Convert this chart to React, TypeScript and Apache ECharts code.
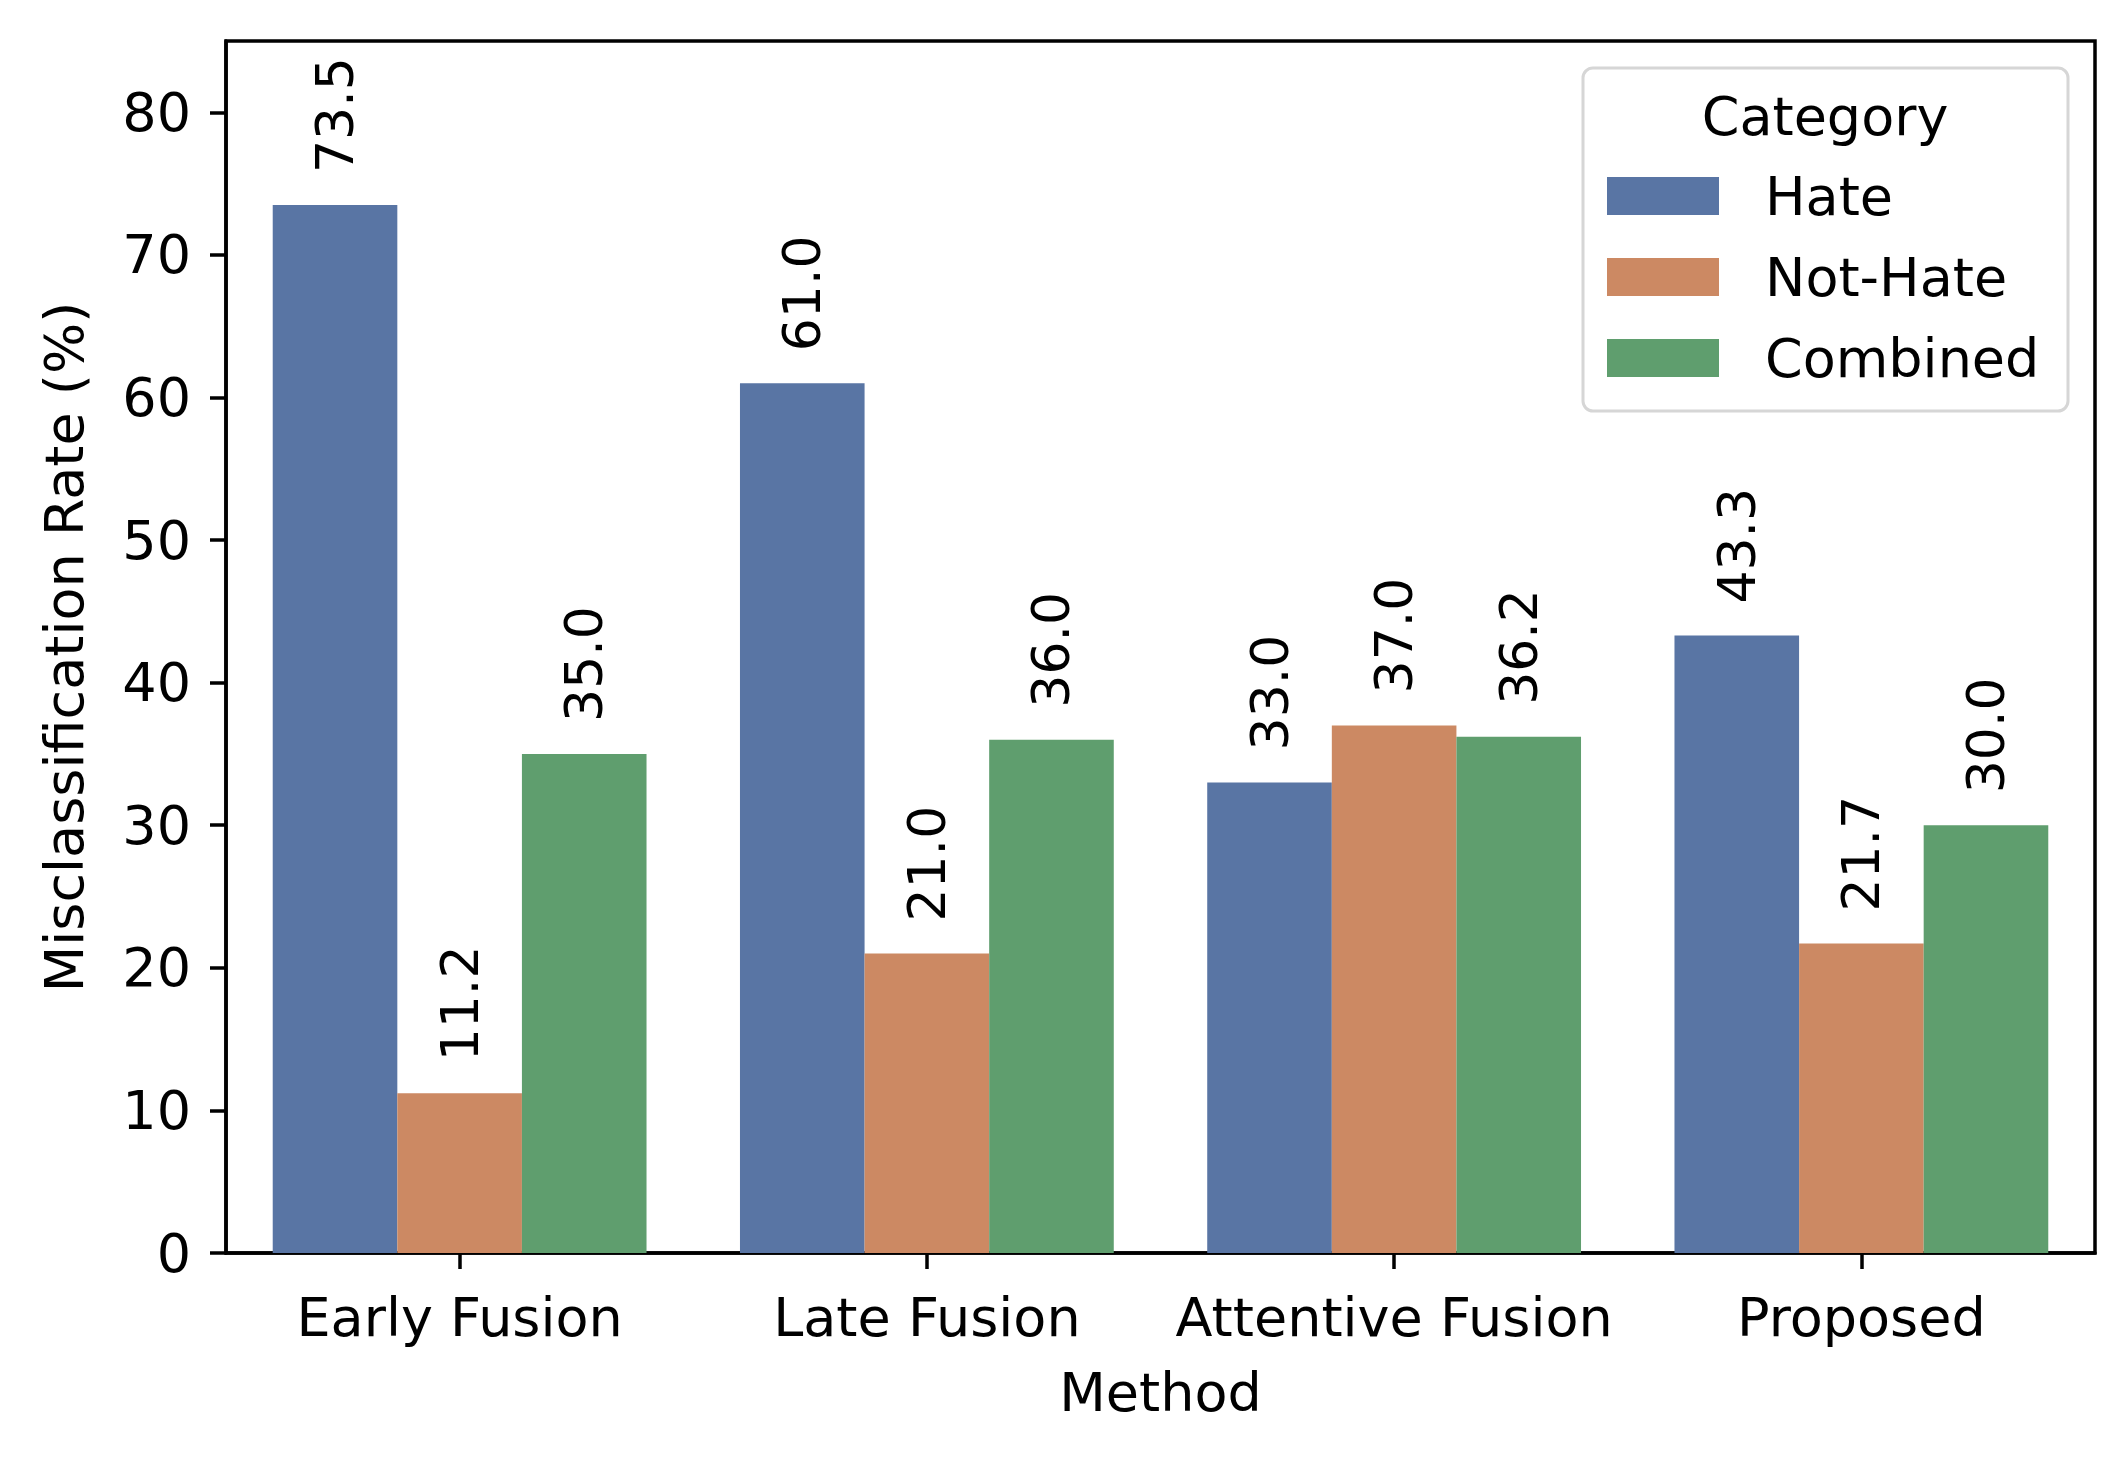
import React, { useEffect, useRef } from "react";
import * as echarts from "echarts";

const categories = ["Early Fusion", "Late Fusion", "Attentive Fusion", "Proposed"];
const seriesNames = ["Hate", "Not-Hate", "Combined"];
const hate = [73.5, 61.0, 33.0, 43.3];
const notHate = [11.2, 21.0, 37.0, 21.7];
const combined = [35.0, 36.0, 36.2, 30.0];
const yTicks = [0, 10, 20, 30, 40, 50, 60, 70, 80];
const colors = ["#5975a4", "#cc8963", "#5f9e6e"];

const FONT = "DejaVu Sans";

export default function App() {
  const ref = useRef<HTMLDivElement>(null);
  useEffect(() => {
    document.body.style.margin = "0";
    const chart = echarts.init(ref.current!, null, { renderer: "svg" });
    const values = [hate, notHate, combined];
    chart.setOption({
      animation: false,
      backgroundColor: "#fff",
      textStyle: { fontFamily: FONT, color: "#000" },
      grid: {
        left: 226,
        right: 30,
        top: 41,
        bottom: 204,
        show: true,
        borderColor: "#000",
        borderWidth: 3.5,
        backgroundColor: "transparent",
      },
      xAxis: {
        type: "category",
        data: categories,
        name: "Method",
        nameLocation: "middle",
        nameGap: 112,
        nameTextStyle: { fontSize: 54, color: "#000", fontFamily: FONT },
        axisLine: { show: true, lineStyle: { color: "#000", width: 3.5 } },
        axisTick: { show: true, alignWithLabel: true, length: 16, lineStyle: { color: "#000", width: 3.5 } },
        axisLabel: { fontSize: 54, color: "#000", fontFamily: FONT, margin: 37, interval: 0 },
        splitLine: { show: false },
      },
      yAxis: {
        type: "value",
        min: 0,
        max: 85,
        interval: 10,
        name: "Misclassification Rate (%)",
        nameLocation: "middle",
        nameGap: 135,
        nameTextStyle: { fontSize: 54, color: "#000", fontFamily: FONT },
        axisLine: { show: true, lineStyle: { color: "#000", width: 3.5 } },
        axisTick: { show: true, length: 16, customValues: yTicks, lineStyle: { color: "#000", width: 3.5 } },
        axisLabel: { fontSize: 54, color: "#000", fontFamily: FONT, margin: 35, customValues: yTicks },
        splitLine: { show: false },
      },
      legend: {
        orient: "vertical",
        left: 1607,
        top: 169,
        itemWidth: 112,
        itemHeight: 38,
        itemGap: 27,
        icon: "rect",
        padding: 0,
        data: seriesNames,
        textStyle: { fontSize: 54, color: "#000", fontFamily: FONT, padding: [0, 0, 0, 41] },
      },
      graphic: [
        {
          type: "rect",
          z: 0,
          shape: { x: 1583, y: 68, width: 485, height: 343, r: 10 },
          style: { fill: "rgba(255,255,255,0.8)", stroke: "#d6d6d6", lineWidth: 3 },
        },
        {
          type: "text",
          z: 1,
          x: 1825,
          y: 116,
          style: {
            text: "Category",
            fontSize: 54,
            fontFamily: FONT,
            fill: "#000",
            align: "center",
            verticalAlign: "middle",
          },
        },
      ],
      series: seriesNames.map((name, i) => ({
        name,
        type: "bar",
        data: values[i],
        barGap: "0%",
        barCategoryGap: "20%",
        itemStyle: { color: colors[i] },
        label: {
          show: true,
          position: "top",
          rotate: 90,
          align: "left",
          verticalAlign: "middle",
          distance: 32,
          fontSize: 52,
          fontFamily: FONT,
          color: "#000",
          formatter: (p: any) => Number(p.value).toFixed(1),
        },
      })),
    });
    return () => chart.dispose();
  }, []);
  return (
    <div
      ref={ref}
      style={{ position: "absolute", left: 0, top: 0, width: 2125, height: 1457 }}
    />
  );
}
